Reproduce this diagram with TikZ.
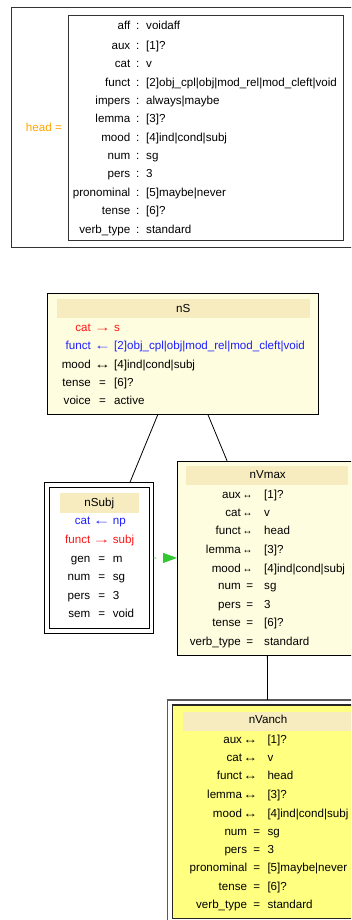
\documentclass[tikz,border=0pt]{standalone}
\usepackage{fontspec}
\usepackage{graphicx}
\setmainfont{Liberation Sans}
\usetikzlibrary{arrows.meta}
\definecolor{hdr}{RGB}{247,236,192}
\definecolor{lyel}{RGB}{255,253,224}
\definecolor{yel}{RGB}{255,255,128}
\definecolor{cred}{RGB}{255,20,20}
\definecolor{cblue}{RGB}{30,30,255}
\definecolor{corange}{RGB}{255,165,0}
\definecolor{cgreen}{RGB}{50,200,50}
\newcommand{\frow}[9][black]{%
  \node[lab,text=#1] (#2l) at (#4,#3+3.8) {#7};
  \node[opr,text=#1] (#2o) at (#5,#3+3.8) {#8};
  \node[val,text=#1] (#2v) at (#6,#3+3.8) {#9};}
\newcommand{\aw}[2]{\scalebox{#1}[1]{#2}}
\begin{document}
\begin{tikzpicture}[x=1pt,y=-1pt,
  font=\fontsize{11.6}{14}\selectfont,
  lab/.style={inner sep=0pt, anchor=base east},
  opr/.style={inner sep=0pt, anchor=base},
  val/.style={inner sep=0pt, anchor=base west},
  ttl/.style={inner sep=0pt, anchor=base},
  frame/.style={draw=black!80, line width=1pt, inner sep=0pt, outer sep=0pt, fill=white},
  box/.style={draw=black, line width=0.9pt, inner sep=0pt, outer sep=0pt, fill=lyel},
  band/.style={fill=hdr, inner sep=0pt, outer sep=0pt},
  edge/.style={draw=black, line width=0.8pt},
  gedge/.style={draw=cgreen, line width=0.8pt, dash pattern=on 3pt off 10pt,
    -{Triangle[length=14pt,width=10pt]}}]
\useasboundingbox (0,0) rectangle (351,920);
\clip (0,0) rectangle (351,920);
\fill[white] (0,0) rectangle (351,920);

% ---------- head = AVM ----------
\node[frame, minimum width=349pt, minimum height=240.4pt] (headbox) at (185.5,127.5) {};
\node[frame, minimum width=275pt, minimum height=225pt] (headavm) at (205.8,128.2) {};
\node[lab, text=corange] (headlbl) at (62,131.8) {head =};
\frow{h1}{26}{130.5}{137.7}{146}{aff}{:}{voidaff}
\frow{h2}{45.7}{130.5}{137.7}{146}{aux}{:}{[1]?}
\frow{h3}{64}{130.5}{137.7}{146}{cat}{:}{v}
\frow{h4}{82.3}{130.5}{137.7}{146}{funct}{:}{[2]obj\_cpl|obj|mod\_rel|mod\_cleft|void}
\frow{h5}{100.7}{130.5}{137.7}{146}{impers}{:}{always|maybe}
\frow{h6}{119}{130.5}{137.7}{146}{lemma}{:}{[3]?}
\frow{h7}{137.3}{130.5}{137.7}{146}{mood}{:}{[4]ind|cond|subj}
\frow{h8}{155.7}{130.5}{137.7}{146}{num}{:}{sg}
\frow{h9}{174}{130.5}{137.7}{146}{pers}{:}{3}
\frow{h10}{192.7}{130.5}{137.7}{146}{pronominal}{:}{[5]maybe|never}
\frow{h11}{211}{130.5}{137.7}{146}{tense}{:}{[6]?}
\frow{h12}{229.3}{130.5}{137.7}{146}{verb\_type}{:}{standard}

% ---------- nS ----------
\node[box, minimum width=271pt, minimum height=121pt] (nS) at (182.8,353.8) {};
\node[band, minimum width=253pt, minimum height=19.3pt] (nSband) at (183.5,308.65) {};
\node[ttl] (nSt) at (183.3,312.1) {nS};
\frow[cred]{s1}{327.3}{91}{102.5}{114}{cat}{\aw{1.45}{→}}{s}
\frow[cblue]{s2}{345.7}{91}{102.5}{114}{funct}{\aw{1.45}{←}}{[2]obj\_cpl|obj|mod\_rel|mod\_cleft|void}
\frow{s3}{364.3}{91}{102.5}{114}{mood}{\aw{1.45}{↔}}{[4]ind|cond|subj}
\frow{s4}{382.3}{91}{102.5}{114}{tense}{=}{[6]?}
\frow{s5}{401}{91}{102.5}{114}{voice}{=}{active}

% ---------- nSubj ----------
\node[box, fill=white, minimum width=108.8pt, minimum height=150.8pt] (nSubjO) at (98.9,557.9) {};
\node[box, fill=white, minimum width=100pt, minimum height=141.5pt] (nSubjI) at (99,557.75) {};
\node[band, minimum width=79pt, minimum height=19.4pt] (nSubjband) at (99.5,503) {};
\node[ttl] (nSubjt) at (99.3,506.1) {nSubj};
\frow[cblue]{j1}{521}{90.5}{101.7}{112.7}{cat}{\aw{1.55}{←}}{np}
\frow[cred]{j2}{540}{90.5}{101.7}{112.7}{funct}{\aw{1.55}{→}}{subj}
\frow{j3}{558.3}{90.5}{101.7}{112.7}{gen}{=}{m}
\frow{j4}{576.7}{90.5}{101.7}{112.7}{num}{=}{sg}
\frow{j5}{595.3}{90.5}{101.7}{112.7}{pers}{=}{3}
\frow{j6}{613.3}{90.5}{101.7}{112.7}{sem}{=}{void}

% ---------- nVmax ----------
\node[box, minimum width=180pt, minimum height=194pt] (nVmax) at (267,558) {};
\node[band, minimum width=162pt, minimum height=19pt] (nVmaxband) at (267,475.5) {};
\node[ttl] (nVmaxt) at (267.7,478.8) {nVmax};
\frow{m1}{494.3}{241}{247.6}{264}{aux}{\aw{0.85}{↔}}{[1]?}
\frow{m2}{512.7}{241}{247.6}{264}{cat}{\aw{0.85}{↔}}{v}
\frow{m3}{531}{241}{247.6}{264}{funct}{\aw{0.85}{↔}}{head}
\frow{m4}{550}{241}{247.6}{264}{lemma}{\aw{0.85}{↔}}{[3]?}
\frow{m5}{568.3}{241}{247.6}{264}{mood}{\aw{0.85}{↔}}{[4]ind|cond|subj}
\frow{m6}{586}{241}{249.7}{264}{num}{=}{sg}
\frow{m7}{605}{241}{249.7}{264}{pers}{=}{3}
\frow{m8}{623}{241}{249.7}{264}{tense}{=}{[6]?}
\frow{m9}{642}{241}{249.7}{264}{verb\_type}{=}{standard}

% ---------- nVanch ----------
\node[frame, draw=black!65, line width=1.3pt, minimum width=201.4pt, minimum height=223.5pt] (nVanchO) at (268,811.7) {};
\node[box, draw=black!85, line width=1.2pt, fill=yel, minimum width=191.4pt, minimum height=213.3pt] (nVanchI) at (268,811.7) {};
\node[band, minimum width=170pt, minimum height=19pt] (nVanchband) at (268,721.5) {};
\node[ttl] (nVancht) at (268,723.8) {nVanch};
\frow{v1}{739.3}{242.2}{250.4}{267.3}{aux}{\aw{1.25}{↔}}{[1]?}
\frow{v2}{757.7}{242.2}{250.4}{267.3}{cat}{\aw{1.25}{↔}}{v}
\frow{v3}{776}{242.2}{250.4}{267.3}{funct}{\aw{1.25}{↔}}{head}
\frow{v4}{795}{242.2}{250.4}{267.3}{lemma}{\aw{1.25}{↔}}{[3]?}
\frow{v5}{813.3}{242.2}{250.4}{267.3}{mood}{\aw{1.25}{↔}}{[4]ind|cond|subj}
\frow{v6}{831.7}{247.3}{256.7}{267.3}{num}{=}{sg}
\frow{v7}{850}{247.3}{256.7}{267.3}{pers}{=}{3}
\frow{v8}{867.7}{247.3}{256.7}{267.3}{pronominal}{=}{[5]maybe|never}
\frow{v9}{886.7}{247.3}{256.7}{267.3}{tense}{=}{[6]?}
\frow{v10}{904.3}{247.3}{256.7}{267.3}{verb\_type}{=}{standard}

% ---------- edges ----------
\draw[edge] (nS) -- (nSubjO);
\draw[edge] (nS) -- (nVmax);
\draw[edge] (nVmax) -- (nVanchO);
\draw[gedge] (nSubjO) -- (nVmax);
\end{tikzpicture}
\end{document}
